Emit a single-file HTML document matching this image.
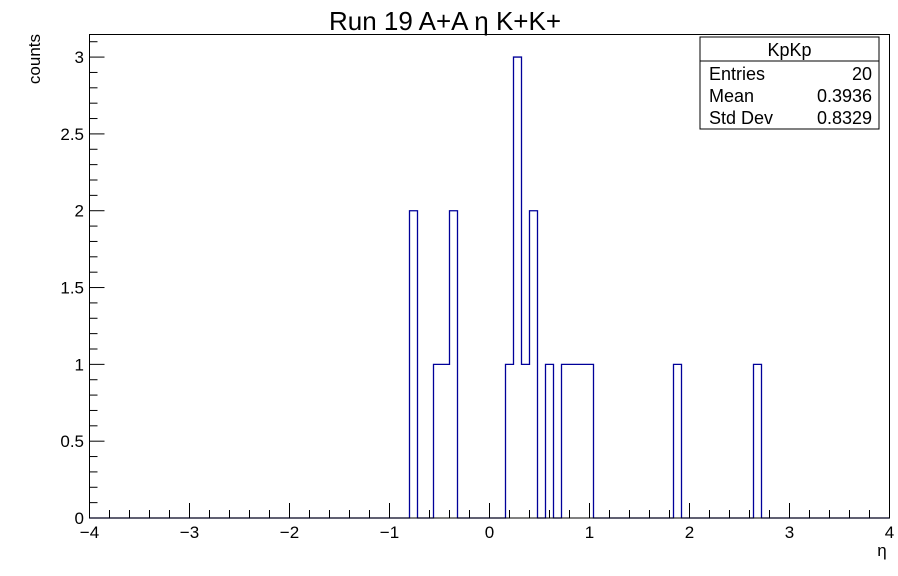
<!DOCTYPE html>
<html><head><meta charset="utf-8"><style>
body{margin:0;background:#fff;}
svg{display:block;font-family:"Liberation Sans",sans-serif;}
</style></head><body>
<svg id="chart" width="898" height="576" viewBox="0 0 898 576">
<rect width="898" height="576" fill="#fff"/>
<text x="445" y="30" font-size="26" text-anchor="middle">Run 19 A+A η K+K+</text>
<text x="0" y="0" font-size="17" text-anchor="end" transform="translate(40,34) rotate(-90)">counts</text>
<text x="882" y="556" font-size="17" text-anchor="middle">η</text>
<g id="axes"></g>
<path id="hist" fill="none" stroke="#000099" stroke-width="1.3"/>
<rect x="89.5" y="34.5" width="800" height="483.5" fill="none" stroke="#000" stroke-width="1"/>
<g>
<rect x="700" y="37" width="179" height="92" fill="#fff" stroke="#000" stroke-width="1"/>
<line x1="700" y1="61" x2="879" y2="61" stroke="#000"/>
<text x="789.5" y="56" font-size="18" text-anchor="middle">KpKp</text>
<text x="709" y="80" font-size="18">Entries</text><text x="872" y="80" font-size="18" text-anchor="end">20</text>
<text x="709" y="102" font-size="18">Mean</text><text x="872" y="102" font-size="18" text-anchor="end">0.3936</text>
<text x="709" y="124" font-size="18">Std Dev</text><text x="872" y="124" font-size="18" text-anchor="end">0.8329</text>
</g>
</svg>
<script>
const binLowEdges = [-0.80,-0.56,-0.48,-0.40,0.16,0.24,0.32,0.40,0.56,0.72,0.80,0.88,0.96,1.84,2.64];
const binCounts   = [2,1,1,2,1,3,1,2,1,1,1,1,1,1,1];
const xTickLabels = [-4,-3,-2,-1,0,1,2,3,4];
const yTickLabels = [0,0.5,1,1.5,2,2.5,3];
const binWidth = 0.08;
const xMin=-4, xMax=4, yMin=0, yMax=3.147;
const L=89.5, R=889.5, T=34.5, B=518;
const sx = v => L + (v-xMin)/(xMax-xMin)*(R-L);
const sy = v => B - (v-yMin)/(yMax-yMin)*(B-T);
const ns="http://www.w3.org/2000/svg";
const axes=document.getElementById('axes');
function line(x1,y1,x2,y2){const l=document.createElementNS(ns,'line');l.setAttribute('x1',x1);l.setAttribute('y1',y1);l.setAttribute('x2',x2);l.setAttribute('y2',y2);l.setAttribute('stroke','#000');axes.appendChild(l);return l;}
function text(x,y,s,anchor){const t=document.createElementNS(ns,'text');t.setAttribute('x',x);t.setAttribute('y',y);t.setAttribute('font-size','17');t.setAttribute('text-anchor',anchor);t.textContent=s;axes.appendChild(t);return t;}
for(let i=0;i<=40;i++){const v=xMin+i*0.2;const x=sx(v);const major=(i%5===0);const tk=line(x,B,x,B-(major?15:8));

}
xTickLabels.forEach(v=>{const t=text(sx(v),538,(v<0?'\u2212'+(-v):String(v)),'middle');

});
for(let i=0;i<=31;i++){const v=i*0.1;if(v>yMax)break;const y=sy(v);const major=(i%5===0);const tk=line(L,y,L+(major?15:8),y);

}
yTickLabels.forEach(v=>{const t=text(84,sy(v)+6,String(v),'end');

});
let d='M'+sx(xMin)+','+sy(0);
let cur=0;
binLowEdges.forEach((lo,i)=>{
  const hi=lo+binWidth;
  d+=' L'+sx(lo)+','+sy(cur)+' L'+sx(lo)+','+sy(binCounts[i])+' L'+sx(hi)+','+sy(binCounts[i]);
  cur=binCounts[i];
  const nextLo = i+1<binLowEdges.length?binLowEdges[i+1]:null;
  if(nextLo===null || Math.abs(nextLo-hi)>1e-6){ d+=' L'+sx(hi)+','+sy(0); cur=0; }
});
d+=' L'+sx(xMax)+','+sy(0);
document.getElementById('hist').setAttribute('d',d);
</script>
</body></html>
